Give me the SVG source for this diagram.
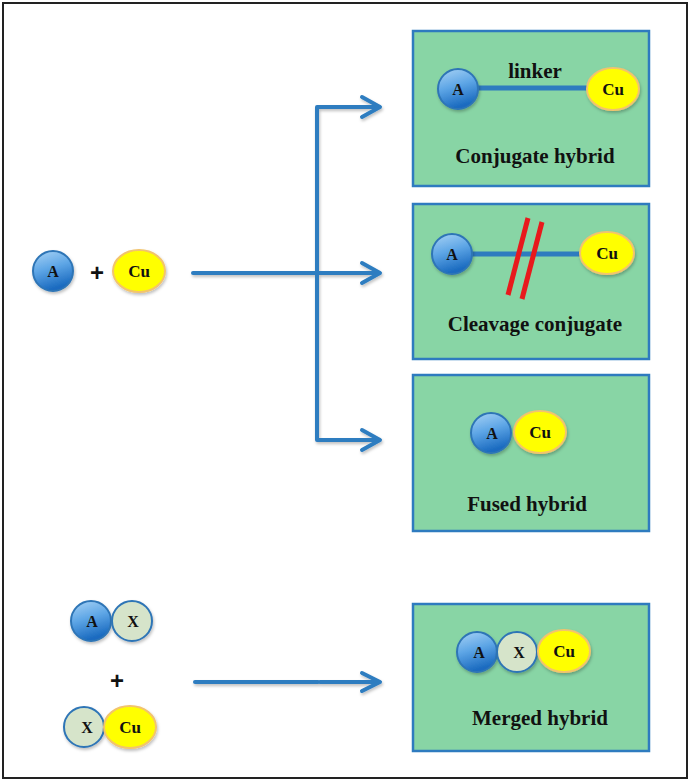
<svg xmlns="http://www.w3.org/2000/svg" width="690" height="782" viewBox="0 0 690 782">
<defs>
<linearGradient id="gA" x1="0" y1="0" x2="0.3" y2="1">
<stop offset="0" stop-color="#A9D3F5"/>
<stop offset="0.5" stop-color="#5EA6E6"/>
<stop offset="1" stop-color="#1B6BC0"/>
</linearGradient>
<filter id="sh" x="-30%" y="-30%" width="160%" height="160%">
<feDropShadow dx="1" dy="2" stdDeviation="1.5" flood-color="#000" flood-opacity="0.25"/>
</filter>
<style>
.box{fill:#88D5A5;stroke:#2E7BBF;stroke-width:2.5}
.a{fill:url(#gA);stroke:#2E75B6;stroke-width:2;filter:url(#sh)}
.cu{fill:#FFFF00;stroke:#F2C46D;stroke-width:2;filter:url(#sh)}
.x{fill:#D6E4CA;stroke:#2E75B6;stroke-width:2;filter:url(#sh)}
.t{font-family:"Liberation Serif","Times New Roman",serif;font-weight:bold;fill:#111;text-anchor:middle}
.lab{font-size:21px}
.sm{font-size:16px}
.cut{font-size:17px}
.plus{font-family:"Liberation Sans",Arial,sans-serif;font-weight:bold;font-size:24px;fill:#111;text-anchor:middle}
.ln{stroke:#2E7DC0;stroke-width:4;fill:none;stroke-linecap:round;stroke-linejoin:round}
.link{stroke:#2E7BBF;stroke-width:5;fill:none}
.red{stroke:#E8191C;stroke-width:5;fill:none}
</style>
</defs>
<rect x="3" y="3" width="684" height="775" fill="#fff" stroke="#222" stroke-width="2"/>

<g id="connectors" filter="url(#sh)">
<path class="ln" d="M193,273 L316,273"/>
<path class="ln" d="M318,273 L378,273"/>
<path class="ln" d="M378,107 L317,107 L317,440 L378,440"/>
<path class="ln" d="M362,97 L380,107 L362,117"/>
<path class="ln" d="M362,263 L380,273 L362,283"/>
<path class="ln" d="M362,430 L380,440 L362,450"/>
<path class="ln" d="M195,682 L318,682"/>
<path class="ln" d="M320,682 L378,682"/>
<path class="ln" d="M362,673 L380,682 L362,691"/>
</g>

<g id="left-A">
<circle class="a" cx="53" cy="271" r="20"/>
<text class="t sm" x="53" y="277">A</text>
</g>
<g id="plus1"><text class="plus" x="97" y="281">+</text></g>
<g id="left-Cu">
<ellipse class="cu" cx="139" cy="271" rx="26" ry="21"/>
<text class="t cut" x="139" y="277">Cu</text>
</g>

<g id="box-conjugate">
<rect class="box" x="413" y="31" width="236" height="155"/>
<line class="link" x1="476" y1="88" x2="590" y2="88"/>
<circle class="a" cx="458" cy="89" r="20"/>
<ellipse class="cu" cx="613" cy="89" rx="26" ry="21"/>
<text class="t sm" x="458" y="95">A</text>
<text class="t cut" x="613" y="95">Cu</text>
<text class="t lab" x="535" y="78">linker</text>
<text class="t lab" x="535" y="163">Conjugate hybrid</text>
</g>

<g id="box-cleavage">
<rect class="box" x="413" y="204" width="236" height="155"/>
<line class="link" x1="470" y1="254" x2="583" y2="254"/>
<circle class="a" cx="452" cy="254" r="20"/>
<ellipse class="cu" cx="607" cy="253" rx="27" ry="21"/>
<text class="t sm" x="452" y="260">A</text>
<text class="t cut" x="607" y="259">Cu</text>
<line class="red" x1="528" y1="218" x2="508" y2="295"/>
<line class="red" x1="542" y1="222" x2="522" y2="299"/>
<text class="t lab" x="535" y="331">Cleavage conjugate</text>
</g>

<g id="box-fused">
<rect class="box" x="413" y="375" width="236" height="156"/>
<circle class="a" cx="491" cy="433" r="20"/>
<ellipse class="cu" cx="540" cy="432" rx="26" ry="21"/>
<text class="t sm" x="492" y="439">A</text>
<text class="t cut" x="540" y="438">Cu</text>
<text class="t lab" x="527" y="511">Fused hybrid</text>
</g>

<g id="left-AX">
<circle class="a" cx="91" cy="621" r="20"/>
<circle class="x" cx="132" cy="621" r="20"/>
<text class="t sm" x="92" y="627">A</text>
<text class="t sm" x="133" y="627">X</text>
</g>
<g id="plus2"><text class="plus" x="117" y="689">+</text></g>
<g id="left-XCu">
<circle class="x" cx="84" cy="727" r="20"/>
<ellipse class="cu" cx="130" cy="727" rx="26" ry="21"/>
<text class="t sm" x="87" y="733">X</text>
<text class="t cut" x="130" y="733">Cu</text>
</g>

<g id="box-merged">
<rect class="box" x="413" y="604" width="236" height="147"/>
<circle class="a" cx="477" cy="652" r="20"/>
<circle class="x" cx="517" cy="652" r="20"/>
<ellipse class="cu" cx="564" cy="651" rx="26" ry="21"/>
<text class="t sm" x="479" y="658">A</text>
<text class="t sm" x="519" y="658">X</text>
<text class="t cut" x="564" y="657">Cu</text>
<text class="t lab" x="540" y="725">Merged hybrid</text>
</g>
</svg>
